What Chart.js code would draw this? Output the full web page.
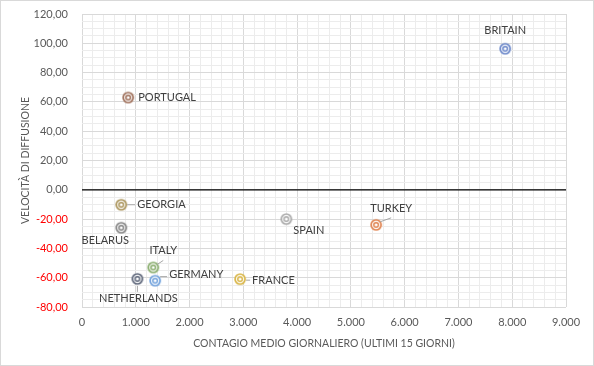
<!DOCTYPE html>
<html>
<head>
<meta charset="utf-8">
<script src="https://cdn.jsdelivr.net/npm/chart.js@4.4.1/dist/chart.umd.min.js"></script>
<style>
  html, body { margin: 0; padding: 0; background: #fff; }
  #wrap { width: 594px; height: 366px; }
</style>
</head>
<body>
<div id="wrap"><canvas id="chart" width="594" height="366"></canvas></div>
<script>
// data
const countries = ["BRITAIN", "PORTUGAL", "GEORGIA", "BELARUS", "ITALY", "GERMANY", "NETHERLANDS", "FRANCE", "SPAIN", "TURKEY"];
const contagio = [7870, 860, 730, 730, 1325, 1360, 1030, 2940, 3800, 5470];
const velocita = [96.3, 63.0, -10.2, -25.9, -53.0, -62.0, -60.8, -61.0, -20.0, -23.9];
const xTicks = [0, 1000, 2000, 3000, 4000, 5000, 6000, 7000, 8000, 9000];
const yTicks = [-80, -60, -40, -20, 0, 20, 40, 60, 80, 100, 120];

// styling
const colors = ["#6784c8", "#9c6b55", "#a89156", "#808080", "#82a865", "#6d9fdb", "#5b6478", "#d8b443", "#a8a8a8", "#e0824e"];
// label offsets: [dx, dy, align, leader line x1,y1,x2,y2 or null]
const labelPos = [
  [0, -18, "center", null],
  [10, 0, "left", null],
  [16, 0, "left", [6, 0, 14, 0]],
  [-16, 13, "center", null],
  [10, -17, "center", [4, -3, 10, -7]],
  [14, -6, "left", [5, -4, 12, -4]],
  [1, 20, "center", [0, 7, 0, 13]],
  [12, 1, "left", [6, 1, 10, 1]],
  [7, 11, "left", null],
  [15, -16, "center", [4, -3, 15, -7]]
];

const FONT = "Lato, 'Open Sans', sans-serif";

function makeMarker(color) {
  const c = document.createElement("canvas");
  c.width = 14; c.height = 14;
  const g = c.getContext("2d");
  g.strokeStyle = color;
  g.fillStyle = "#fff";
  g.lineWidth = 1.7;
  g.beginPath(); g.arc(7, 7, 5, 0, Math.PI * 2); g.fill(); g.stroke();
  g.lineWidth = 1.4;
  g.beginPath(); g.arc(7, 7, 2.3, 0, Math.PI * 2); g.stroke();
  return c;
}

function fmtThousands(v) {
  return String(Math.round(v)).replace(/\B(?=(\d{3})+(?!\d))/g, ".");
}

const datasets = countries.map(function (name, i) {
  return {
    label: name,
    data: [{ x: contagio[i], y: velocita[i] }],
    pointStyle: makeMarker(colors[i]),
    pointRadius: 7,
    pointHoverRadius: 7
  };
});

const labelsPlugin = {
  id: "pointLabels",
  beforeDatasetsDraw(chart) {
    const ctx = chart.ctx;
    const y0 = chart.scales.y.getPixelForValue(0);
    ctx.save();
    ctx.strokeStyle = "#000";
    ctx.lineWidth = 1.3;
    ctx.beginPath();
    ctx.moveTo(chart.chartArea.left, y0);
    ctx.lineTo(chart.chartArea.right, y0);
    ctx.stroke();
    ctx.restore();
  },
  afterDatasetsDraw(chart) {
    const ctx = chart.ctx;
    ctx.save();
    ctx.font = "11px " + FONT;
    ctx.fillStyle = "#404040";
    ctx.textBaseline = "middle";
    chart.data.datasets.forEach(function (ds, i) {
      const pt = chart.getDatasetMeta(i).data[0];
      const p = labelPos[i];
      if (p[3]) {
        ctx.strokeStyle = "#a6a6a6";
        ctx.lineWidth = 1;
        ctx.beginPath();
        ctx.moveTo(pt.x + p[3][0], pt.y + p[3][1]);
        ctx.lineTo(pt.x + p[3][2], pt.y + p[3][3]);
        ctx.stroke();
      }
      ctx.textAlign = p[2];
      ctx.fillText(ds.label, pt.x + p[0], pt.y + p[1]);
    });
    ctx.restore();
  },
  afterDraw(chart) {
    const ctx = chart.ctx;
    ctx.save();
    ctx.strokeStyle = "#d9d9d9";
    ctx.lineWidth = 1;
    ctx.strokeRect(0.5, 0.5, chart.width - 1, chart.height - 1);
    ctx.restore();
  }
};

new Chart(document.getElementById("chart").getContext("2d"), {
  type: "scatter",
  data: { datasets: datasets },
  options: {
    responsive: false,
    animation: false,
    layout: { padding: { left: 15, right: 28, top: 14, bottom: 16 } },
    plugins: {
      legend: { display: false },
      tooltip: { enabled: false }
    },
    scales: {
      x: {
        type: "linear",
        min: xTicks[0],
        max: xTicks[xTicks.length - 1],
        afterFit(scale) { scale.height = 43; },
        border: { display: false },
        grid: {
          drawTicks: false,
          color(c) { return xTicks.includes(Math.round(c.tick.value)) ? "#d9d9d9" : "#ececec"; }
        },
        ticks: {
          stepSize: 200,
          autoSkip: false,
          maxRotation: 0,
          padding: 9,
          color: "#595959",
          font: { family: FONT, size: 11 },
          callback(v) { return xTicks.includes(Math.round(v)) ? fmtThousands(v) : ""; }
        },
        title: {
          display: true,
          text: "CONTAGIO MEDIO GIORNALIERO (ULTIMI 15 GIORNI)",
          color: "#595959",
          font: { family: FONT, size: 10.5 },
          padding: { top: 4, bottom: 0 }
        }
      },
      y: {
        type: "linear",
        min: yTicks[0],
        max: yTicks[yTicks.length - 1],
        afterFit(scale) { scale.width = 67; },
        border: { display: false },
        grid: {
          drawTicks: true,
          tickLength: 11,
          tickColor: "rgba(0,0,0,0)",
          color(c) { return yTicks.includes(Math.round(c.tick.value)) ? "#d9d9d9" : "#ececec"; }
        },
        ticks: {
          stepSize: 5,
          autoSkip: false,
          padding: 3,
          color(c) { return c.tick.value < 0 ? "#ff0000" : "#595959"; },
          font: { family: FONT, size: 11 },
          callback(v) { return yTicks.includes(Math.round(v)) ? v.toFixed(2).replace(".", ",") : ""; }
        },
        title: {
          display: true,
          text: "VELOCITÀ DI DIFFUSIONE",
          color: "#595959",
          font: { family: FONT, size: 10.5 },
          padding: { top: 4, bottom: 0 }
        }
      }
    }
  },
  plugins: [labelsPlugin]
});
</script>
</body>
</html>
